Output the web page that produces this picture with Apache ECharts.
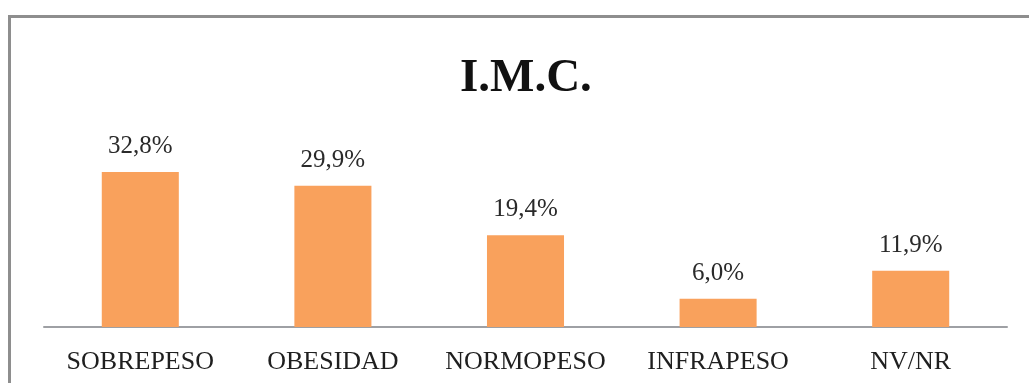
<!DOCTYPE html>
<html>
<head>
<meta charset="utf-8">
<script src="https://cdn.jsdelivr.net/npm/echarts@6/dist/echarts.min.js"></script>
<style>
  html, body { margin: 0; padding: 0; background: #fff; overflow: hidden; }
  #marco {
    position: absolute; left: 8px; top: 15px; width: 1040px; height: 400px;
    border: 3px solid #8e8e8e; box-sizing: border-box;
  }
  #imc { position: absolute; left: 0; top: 0; width: 1029px; height: 383px; }
</style>
</head>
<body>
<div id="marco"></div>
<div id="imc"></div>
<script>
var categorias = ['SOBREPESO', 'OBESIDAD', 'NORMOPESO', 'INFRAPESO', 'NV/NR'];
var porcentajes = [32.8, 29.9, 19.4, 6.0, 11.9];

var imcChart = echarts.init(document.getElementById('imc'));

var option = {
  backgroundColor: 'transparent',
  animation: false,
  title: {
    text: 'I.M.C.',
    left: 455,
    top: 50,
    textStyle: {
      fontFamily: 'Liberation Serif',
      fontWeight: 'bold',
      fontSize: 47,
      color: '#111'
    }
  },
  grid: {
    left: 44,
    right: 22,
    top: 138,
    bottom: 56
  },
  xAxis: {
    type: 'category',
    data: categorias,
    axisLine: { lineStyle: { color: '#9ea0a4', width: 2 } },
    axisTick: { show: false },
    axisLabel: {
      interval: 0,
      margin: 22,
      fontFamily: 'Liberation Serif',
      fontSize: 26,
      color: '#1f1f1f'
    }
  },
  yAxis: {
    type: 'value',
    min: 0,
    max: 40,
    show: false
  },
  series: [
    {
      type: 'bar',
      data: porcentajes,
      barWidth: '40%',
      itemStyle: { color: '#f9a15c' },
      label: {
        show: true,
        position: 'top',
        distance: 13,
        fontFamily: 'Liberation Serif',
        fontSize: 25,
        color: '#2a2a2a',
        formatter: function (p) {
          return p.value.toFixed(1).replace('.', ',') + '%';
        }
      }
    }
  ]
};

imcChart.setOption(option);
window.addEventListener('resize', function () {
  imcChart.resize();
});
</script>
</body>
</html>
